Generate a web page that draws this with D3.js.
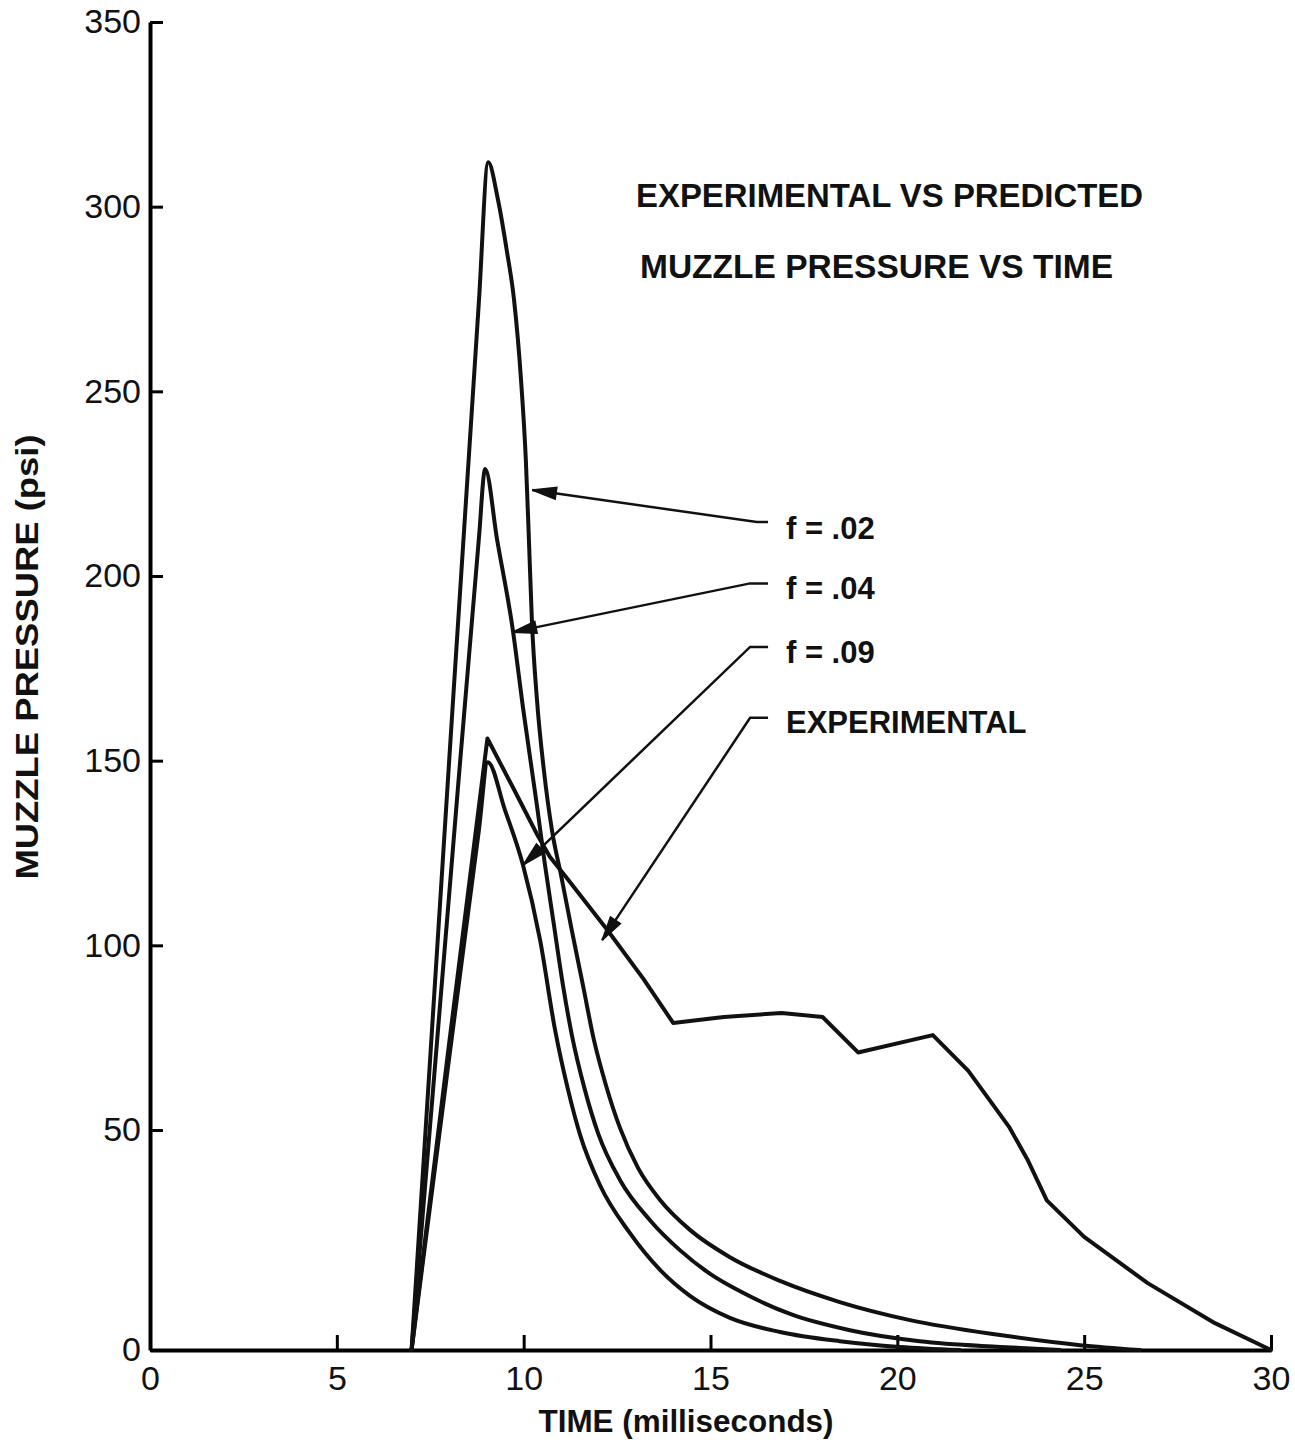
<!DOCTYPE html>
<html>
<head>
<meta charset="utf-8">
<script src="https://cdn.jsdelivr.net/npm/d3@7"></script>
<style>
body { margin: 0; background: #fff; }
text { font-family: 'Liberation Sans', Arial, sans-serif; fill: #111; }
</style>
</head>
<body>
<svg id="chart"></svg>
<script>
const timeTicks = [0, 5, 10, 15, 20, 25, 30]
const pressureTicks = [0, 50, 100, 150, 200, 250, 300, 350]

// [time ms, pressure psi]
const f02 = [[7,0],[8,149],[8.8,274],[9.05,312],[9.31,302],[9.55,288],[9.74,275],[9.93,253],[10.06,231],[10.14,210],[10.22,188],[10.36,166],[10.54,147.5],[10.76,131],[11.0,119],[11.29,104],[11.59,89],[11.88,74.4],[12.2,62.2],[12.58,50.5],[13.06,41.4],[13.65,34.1],[14.45,27.3],[15.52,21.1],[16.86,15.7],[18.46,10.9],[20.34,6.8],[22.75,3.4],[24.89,1.1],[26.49,0]]
const f04 = [[7,0],[8,113],[8.8,210],[8.97,229],[9.29,209.8],[9.71,185.4],[9.98,164.5],[10.36,137.5],[10.57,121.8],[10.81,105.5],[11.05,89.3],[11.29,75.7],[11.64,60.8],[11.99,49.3],[12.58,38.6],[13.38,29.5],[14.18,22.7],[14.99,17.3],[15.87,13],[17.13,8.2],[18.73,4.5],[20.6,2],[22.75,0.7],[24.35,0]]
const f09 = [[7,0],[8,69],[8.8,131],[9.04,149.6],[9.5,136.6],[9.98,121.8],[10.44,101.4],[10.84,77.1],[11.19,60.8],[11.51,48.9],[12.04,37.5],[12.84,26.6],[13.65,18.2],[14.45,12.3],[15.52,7.3],[16.86,4.1],[18.46,2],[20.07,0.7],[21.67,0]]
const experimental = [[7,0],[8,73],[9.03,156],[9.7,143],[10.36,130],[10.7,124],[11.17,118],[12.25,104],[13.2,91],[14,79],[15.36,80.6],[16.9,81.7],[18,80.6],[18.95,71],[20.95,75.7],[21.9,66],[23,50.7],[23.5,43],[24,34],[25,25.7],[26.7,15.2],[28.5,6.1],[30,0]]

const seriesNames = ['f = .02', 'f = .04', 'f = .09', 'EXPERIMENTAL']
const labelPsi = [213, 196.8, 179.4, 160.5]
const leaderTips = [[10.23,223.3],[9.70,184.8],[9.99,121.8],[12.10,101.4]]
const leaderBends = [[16.24,214.6],[16.06,198],[16.06,180.8],[16.06,161.6]]
const leaderEndMs = 16.54
const labelMs = 17.02

const width = 1295, height = 1444

const svg = d3.select('#chart')
.attr('width', width)
.attr('height', height)

let x = d3.scaleLinear()
.domain([0, 30])
.range([150, 1271])

// the hand drawn axis has a taller first interval (0-50) than the rest
let y = d3.scaleLinear()
.domain([0, 50, 350])
.range([1350, 1130, 22])

let axis = svg.append('g')

axis.append('g')
.attr('transform', `translate(0,${y(0)})`)
.call(
	d3.axisBottom(x)
	.tickValues(timeTicks)
	.tickSizeInner(-15)
	.tickSizeOuter(0)
	.tickPadding(16)
)
.call(g => g.select('.domain').attr('stroke-width', 4))
.call(g => g.selectAll('.tick line').attr('stroke-width', 3))
.call(g => g.selectAll('.tick text').attr('font-size', 34).attr('font-family', null).attr('fill', '#111'))

axis.append('g')
.attr('transform', `translate(${x(0)},0)`)
.call(
	d3.axisLeft(y)
	.tickValues(pressureTicks)
	.tickSizeInner(-13)
	.tickSizeOuter(0)
	.tickPadding(9)
)
.call(g => g.select('.domain').attr('stroke-width', 4))
.call(g => g.selectAll('.tick line').attr('stroke-width', 3))
.call(g => g.selectAll('.tick text').attr('font-size', 34).attr('font-family', null).attr('fill', '#111'))

const smooth = d3.line()
.curve(d3.curveMonotoneX)
.x(d => x(d[0]))
.y(d => y(d[1]))

const straight = d3.line()
.x(d => x(d[0]))
.y(d => y(d[1]))

let lines = svg.append('g')
.attr('fill', 'none')
.attr('stroke', '#111')
.attr('stroke-width', 4)
.attr('stroke-linejoin', 'round')
.attr('stroke-linecap', 'round')

;[f02, f04, f09].forEach(s => {
	lines.append('path').attr('d', smooth(s))
})

lines.append('path').attr('d', straight(experimental))

// leaders + arrowheads
let leaders = svg.append('g')

seriesNames.forEach((name, i) => {

	let tip = [x(leaderTips[i][0]), y(leaderTips[i][1])]
	let bend = [x(leaderBends[i][0]), y(leaderBends[i][1])]
	let end = [x(leaderEndMs), y(leaderBends[i][1])]

	leaders.append('path')
	.attr('d', d3.line()([tip, bend, end]))
	.attr('fill', 'none')
	.attr('stroke', '#111')
	.attr('stroke-width', 2.5)

	let dx = bend[0] - tip[0], dy = bend[1] - tip[1]
	let len = Math.sqrt(dx * dx + dy * dy)
	let ux = dx / len, uy = dy / len
	let L = 24, w = 6
	let bx = tip[0] + ux * L, by = tip[1] + uy * L

	leaders.append('path')
	.attr('d', `M${tip[0]},${tip[1]}L${bx - uy * w},${by + ux * w}L${bx + uy * w},${by - ux * w}Z`)
	.attr('fill', '#111')
	.attr('stroke', '#111')
	.attr('stroke-width', 1.5)

	leaders.append('text')
	.attr('x', x(labelMs))
	.attr('y', y(labelPsi[i]) + 11)
	.attr('font-size', 31)
	.attr('font-weight', 'bold')
	.text(name)
})

// titles
svg.append('text')
.attr('x', 636)
.attr('y', 207)
.attr('font-size', 34)
.attr('font-weight', 'bold')
.attr('textLength', 507)
.attr('lengthAdjust', 'spacingAndGlyphs')
.text('EXPERIMENTAL VS PREDICTED')

svg.append('text')
.attr('x', 640)
.attr('y', 278)
.attr('font-size', 34)
.attr('font-weight', 'bold')
.attr('textLength', 473)
.attr('lengthAdjust', 'spacingAndGlyphs')
.text('MUZZLE PRESSURE VS TIME')

svg.append('text')
.attr('x', 686)
.attr('y', 1432)
.attr('text-anchor', 'middle')
.attr('font-size', 32)
.attr('font-weight', 'bold')
.attr('textLength', 295)
.attr('lengthAdjust', 'spacingAndGlyphs')
.text('TIME (milliseconds)')

svg.append('text')
.attr('transform', 'translate(38,657) rotate(-90)')
.attr('text-anchor', 'middle')
.attr('font-size', 32)
.attr('font-weight', 'bold')
.attr('textLength', 445)
.attr('lengthAdjust', 'spacingAndGlyphs')
.text('MUZZLE PRESSURE (psi)')
</script>
</body>
</html>
